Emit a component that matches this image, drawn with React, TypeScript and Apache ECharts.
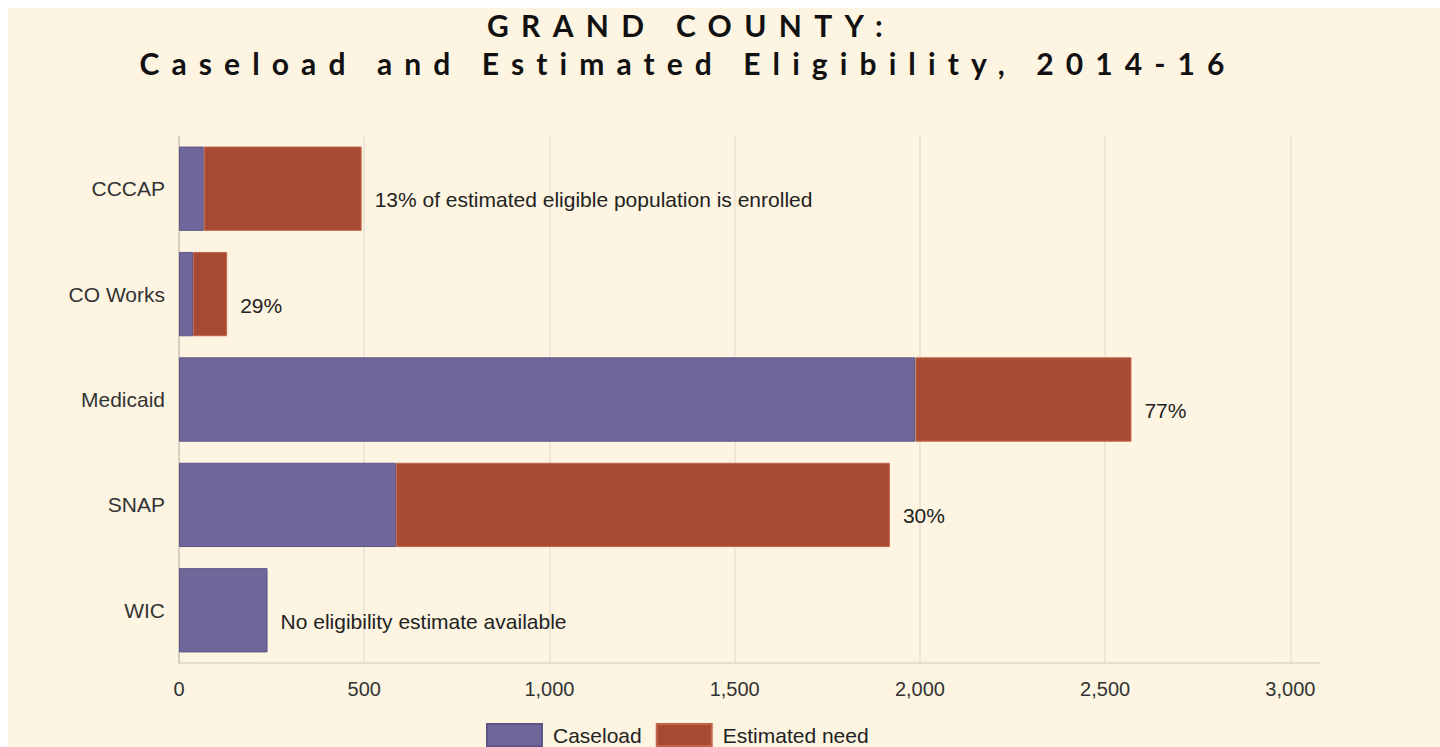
import React, { useEffect, useRef } from 'react';
import * as echarts from 'echarts';

const categories = ['CCCAP', 'CO Works', 'Medicaid', 'SNAP', 'WIC'];
const caseload = [67, 38, 1988, 586, 239];
const estimatedNeed: (number | null)[] = [426, 92, 583, 1333, null];
const annotations = [
  '13% of estimated eligible population is enrolled',
  '29%',
  '77%',
  '30%',
  'No eligibility estimate available',
];
const seriesNames = ['Caseload', 'Estimated need'];
const titleLines = ['GRAND COUNTY:', 'Caseload and Estimated Eligibility, 2014-16'];
const xMin = 0;
const xMax = 3080;
const xInterval = 500;

const PURPLE = '#6F6699';
const RUST = '#A64B33';
const BG = '#FDF5E2';
const LABEL_FONT = 'Arial, "Liberation Sans", sans-serif';

export default function App() {
  const ref = useRef<HTMLDivElement>(null);

  useEffect(() => {
    if (!ref.current) return;
    const chart = echarts.init(ref.current, undefined, { renderer: 'svg' });

    const annotationLabel = (i: number) => ({
      show: true,
      position: 'right',
      distance: 13,
      offset: [0, 11],
      formatter: annotations[i],
      color: '#222',
      fontSize: 21,
      fontFamily: LABEL_FONT,
    });

    const option: any = {
      animation: false,
      backgroundColor: BG,
      title: [
        {
          text: titleLines[0],
          left: 683,
          top: 2,
          textAlign: 'center',
          padding: 0,
          textStyle: { fontFamily: 'Lato', fontWeight: 'bold', fontSize: 30, color: '#111' },
        },
        {
          text: titleLines[1],
          left: 680,
          top: 40,
          textAlign: 'center',
          padding: 0,
          textStyle: { fontFamily: 'Lato', fontWeight: 'bold', fontSize: 30, color: '#111' },
        },
      ],
      legend: {
        data: seriesNames,
        left: 478,
        top: 715,
        itemWidth: 55,
        itemHeight: 22,
        itemGap: 14,
        icon: 'rect',
        padding: 0,
        textStyle: { fontSize: 21, color: '#222', fontFamily: LABEL_FONT, padding: [0, 0, 0, 6] },
      },
      grid: { left: 171, right: 120, top: 128, bottom: 84, containLabel: false },
      xAxis: {
        type: 'value',
        min: xMin,
        max: xMax,
        interval: xInterval,
        axisLine: { show: true, lineStyle: { color: '#DCD5C6', width: 1.5 } },
        axisTick: { show: false },
        splitLine: { show: true, showMinLine: false, showMaxLine: false, lineStyle: { color: '#E9E2D3', width: 1.5 } },
        axisLabel: {
          showMaxLabel: false,
          color: '#333',
          fontSize: 20,
          fontFamily: LABEL_FONT,
          margin: 16,
        },
      },
      yAxis: {
        type: 'category',
        data: categories,
        inverse: true,
        axisLine: { show: true, lineStyle: { color: '#C8C2B4', width: 1.5 } },
        axisTick: { show: false },
        axisLabel: { color: '#333', fontSize: 21, fontFamily: LABEL_FONT, margin: 14 },
      },
      series: [
        {
          name: seriesNames[0],
          type: 'bar',
          stack: 'total',
          barCategoryGap: '20%',
          itemStyle: { color: PURPLE, borderColor: '#5E5688', borderWidth: 1 },
          data: caseload.map((v, i) =>
            estimatedNeed[i] == null ? { value: v, label: annotationLabel(i) } : v
          ),
        },
        {
          name: seriesNames[1],
          type: 'bar',
          stack: 'total',
          barCategoryGap: '20%',
          itemStyle: { color: RUST, borderColor: '#C4644C', borderWidth: 1 },
          data: estimatedNeed.map((v, i) =>
            v == null ? null : { value: v, label: annotationLabel(i) }
          ),
        },
      ],
    };

    chart.setOption(option);

    const spacing: Record<string, string> = {
      [titleLines[0]]: '12.3px',
      [titleLines[1]]: '12.1px',
    };
    ref.current.querySelectorAll('text').forEach((t) => {
      const s = spacing[(t.textContent || '').trim()];
      if (s) (t as SVGTextElement).style.letterSpacing = s;
    });

    return () => chart.dispose();
  }, []);

  return (
    <div
      ref={ref}
      style={{ position: 'absolute', left: 8, top: 8, width: 1432, height: 739 }}
    />
  );
}
